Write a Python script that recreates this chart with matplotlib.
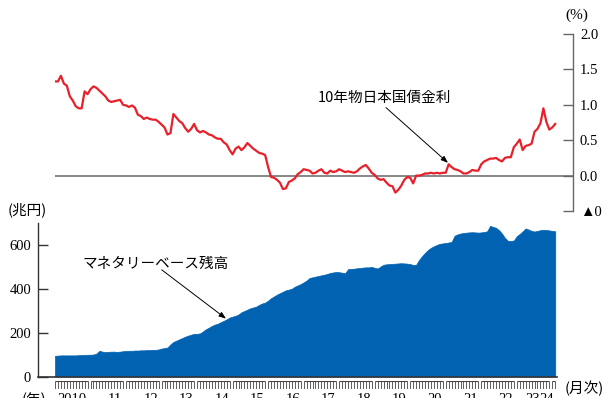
import matplotlib
matplotlib.use("Agg")
import matplotlib.pyplot as plt
from matplotlib import font_manager
import numpy as np

# ---- data (monthly, Jan 2010 - Feb 2024) ----
jgb10_2010 = [1.33, 1.33, 1.41, 1.30, 1.27, 1.12, 1.06, 0.98, 0.95, 0.95, 1.19, 1.15]
jgb10_2011 = [1.22, 1.26, 1.24, 1.20, 1.16, 1.12, 1.06, 1.04, 1.05, 1.06, 1.07, 1.00]
jgb10_2012 = [0.99, 0.97, 0.99, 0.96, 0.86, 0.84, 0.80, 0.82, 0.80, 0.79, 0.79, 0.76]
jgb10_2013 = [0.72, 0.68, 0.58, 0.60, 0.87, 0.82, 0.77, 0.74, 0.67, 0.62, 0.66, 0.73]
jgb10_2014 = [0.64, 0.61, 0.63, 0.61, 0.58, 0.57, 0.54, 0.52, 0.52, 0.47, 0.44, 0.36]
jgb10_2015 = [0.30, 0.38, 0.41, 0.36, 0.40, 0.46, 0.42, 0.38, 0.35, 0.32, 0.31, 0.29]
jgb10_2016 = [0.12, -0.02, -0.03, -0.06, -0.10, -0.19, -0.18, -0.09, -0.07, -0.04, 0.02, 0.05]
jgb10_2017 = [0.09, 0.08, 0.07, 0.03, 0.04, 0.07, 0.09, 0.04, 0.03, 0.07, 0.05, 0.06]
jgb10_2018 = [0.09, 0.07, 0.05, 0.06, 0.05, 0.04, 0.06, 0.10, 0.13, 0.15, 0.10, 0.04]
jgb10_2019 = [0.01, -0.04, -0.06, -0.05, -0.10, -0.14, -0.15, -0.24, -0.20, -0.14, -0.06, -0.02]
jgb10_2020 = [-0.03, -0.11, 0.00, 0.00, 0.01, 0.03, 0.03, 0.04, 0.03, 0.04, 0.03, 0.04]
jgb10_2021 = [0.04, 0.16, 0.12, 0.09, 0.08, 0.06, 0.03, 0.03, 0.05, 0.08, 0.07, 0.07]
jgb10_2022 = [0.16, 0.20, 0.22, 0.24, 0.24, 0.25, 0.22, 0.20, 0.25, 0.26, 0.26, 0.40]
jgb10_2023 = [0.45, 0.51, 0.36, 0.42, 0.43, 0.45, 0.62, 0.66, 0.74, 0.95, 0.76, 0.65]
jgb10_2024 = [0.68, 0.73]

mb_2010 = [94, 95, 96, 96, 96, 96, 96, 96, 97, 98, 98, 99]
mb_2011 = [99, 100, 104, 117, 113, 111, 112, 113, 113, 112, 113, 115]
mb_2012 = [116, 117, 117, 118, 118, 119, 119, 120, 120, 121, 121, 123]
mb_2013 = [127, 129, 132, 146, 157, 163, 169, 175, 181, 186, 190, 194]
mb_2014 = [194, 196, 205, 215, 222, 230, 236, 240, 247, 253, 260, 268]
mb_2015 = [272, 276, 282, 292, 298, 304, 310, 314, 318, 326, 332, 336]
mb_2016 = [345, 356, 364, 372, 379, 385, 392, 395, 399, 408, 414, 420]
mb_2017 = [428, 436, 448, 451, 454, 457, 460, 463, 466, 471, 473, 475]
mb_2018 = [474, 472, 469, 488, 489, 490, 492, 493, 495, 496, 496, 498]
mb_2019 = [494, 491, 500, 508, 510, 511, 512, 513, 514, 515, 514, 513]
mb_2020 = [511, 507, 508, 530, 547, 562, 575, 585, 592, 598, 603, 605]
mb_2021 = [607, 609, 612, 640, 646, 650, 652, 654, 655, 656, 655, 654]
mb_2022 = [655, 657, 660, 685, 680, 676, 665, 650, 630, 617, 616, 618]
mb_2023 = [638, 648, 660, 673, 668, 662, 659, 662, 665, 667, 666, 664]
mb_2024 = [662, 660]

year_labels = ["2010", "11", "12", "13", "14", "15", "16", "17", "18",
               "19", "20", "21", "22", "23", "24"]
yield_ticks = [-0.5, 0.0, 0.5, 1.0, 1.5, 2.0]
yield_ticklabels = ["▲0.5", "0.0", "0.5", "1.0", "1.5", "2.0"]
mb_ticks = [0, 200, 400, 600]

jgb10 = np.array(jgb10_2010 + jgb10_2011 + jgb10_2012 + jgb10_2013 + jgb10_2014 +
                 jgb10_2015 + jgb10_2016 + jgb10_2017 + jgb10_2018 + jgb10_2019 +
                 jgb10_2020 + jgb10_2021 + jgb10_2022 + jgb10_2023 + jgb10_2024)
mb = np.array(mb_2010 + mb_2011 + mb_2012 + mb_2013 + mb_2014 + mb_2015 + mb_2016 +
              mb_2017 + mb_2018 + mb_2019 + mb_2020 + mb_2021 + mb_2022 + mb_2023 + mb_2024)
months = np.arange(len(mb))

# pick an available serif face for the numerals
serif_face = "DejaVu Serif"
for cand in ["Liberation Serif", "DejaVu Serif"]:
    try:
        font_manager.findfont(font_manager.FontProperties(family=cand),
                              fallback_to_default=False)
        serif_face = cand
        break
    except Exception:
        pass
serif = [serif_face, "DejaVu Sans"]
jp = ["Noto Sans CJK JP", "DejaVu Sans"]
plt.rcParams["font.family"] = serif
plt.rcParams["font.size"] = 10.5

# ---- layout helpers (pixel geometry) ----
W, H = 602, 398
X0, PXM = 55.0, 2.96  # pixel of first month, pixels per month

def m_of(px):
    return (px - X0) / PXM

def rect(x1, y_top, x2, y_bot):
    return [x1 / W, (H - y_bot) / H, (x2 - x1) / W, (y_bot - y_top) / H]

RED = "#E8202A"
BLUE = "#0062B1"
GRAY = "#666666"

fig = plt.figure(figsize=(W / 100, H / 100), dpi=100)

# ---- top: 10-year JGB yield ----
ax1 = fig.add_axes(rect(55, 34, 573, 211))
ax1.set_xlim(m_of(55), m_of(573))
ax1.set_ylim(-0.5, 2.0)
for s in ["left", "top", "bottom"]:
    ax1.spines[s].set_visible(False)
ax1.spines["right"].set_color(GRAY)
ax1.spines["right"].set_linewidth(1.0)
ax1.yaxis.tick_right()
ax1.tick_params(axis="y", direction="in", length=7, width=1.0, color=GRAY, pad=5)
ax1.set_yticks(yield_ticks)
ax1.set_yticklabels(yield_ticklabels, family=serif, fontsize=10.5)
ax1.set_xticks([])
ax1.patch.set_alpha(0)
ax1.axhline(0, color=GRAY, lw=1.1, zorder=1)
ax1.plot(months, jgb10, color=RED, lw=1.6, zorder=3, solid_joinstyle="round")
ax1.text(565, H - 15, "(%)", transform=None, family=serif, fontsize=11,
         va="center", ha="left")
ax1.text(m_of(318), 1.10, "10年物日本国債金利", family=jp, fontsize=10.5,
         ha="left", va="center")
ax1.annotate("", xy=(m_of(448), 0.18), xytext=(m_of(386), 0.96),
             arrowprops=dict(arrowstyle="-|>,head_length=0.4,head_width=0.15",
                             color="black", lw=0.7, shrinkA=0, shrinkB=0))

# ---- bottom: monetary base ----
ax2 = fig.add_axes(rect(38, 222.5, 557, 376.5))
ax2.set_xlim(m_of(38), m_of(557))
ax2.set_ylim(0, 700)
ax2.spines["top"].set_visible(False)
ax2.spines["right"].set_visible(False)
ax2.spines["left"].set_color("#333333")
ax2.spines["bottom"].set_color("#333333")
ax2.spines["left"].set_linewidth(1.0)
ax2.spines["bottom"].set_linewidth(1.2)
ax2.tick_params(axis="y", direction="in", length=7, width=1.0, color="#333333", pad=5)
ax2.set_yticks(mb_ticks)
ax2.set_yticklabels([str(v) for v in mb_ticks], family=serif, fontsize=10.5)
ax2.set_xticks([])
ax2.fill_between(months, 0, mb, color=BLUE, lw=0.5, edgecolor=BLUE)
ax2.text(8, H - 210, "(兆円)", transform=None, family=jp, fontsize=10.5,
         va="center", ha="left")
ax2.text(m_of(83), 513, "マネタリーベース残高", family=jp, fontsize=10.5,
         ha="left", va="center")
ax2.annotate("", xy=(m_of(226), 263), xytext=(m_of(161.7), 485),
             arrowprops=dict(arrowstyle="-|>,head_length=0.4,head_width=0.15",
                             color="black", lw=0.7, shrinkA=0, shrinkB=0))

# ---- monthly tick strip ----
ax3 = fig.add_axes(rect(38, 381, 557, 389))
ax3.set_xlim(m_of(38), m_of(557))
ax3.set_ylim(0, 1)
ax3.axis("off")
ax3.vlines(months, 0, 1, color="#444444", lw=0.6)
for k in range(len(year_labels)):
    start = 12 * k
    end = min(12 * k + 11, len(months) - 1)
    ax3.hlines(1, start, end, color="#444444", lw=0.8)
    if k == 0:
        xm = m_of(72)
    elif year_labels[k] == "23":
        xm = m_of(533)
    elif year_labels[k] == "24":
        xm = m_of(547)
    else:
        xm = 12 * k + 8.3
    ax3.text(xm, -0.55, year_labels[k], family=serif, fontsize=10.5,
             ha="center", va="top")
ax3.text(22, H - 393, "(年)", transform=None, family=jp, fontsize=10.5,
         va="top", ha="left")
ax3.text(565, H - 388, "(月次)", transform=None, family=jp, fontsize=10.5,
         va="center", ha="left")

fig.savefig("out.png", dpi=100)
